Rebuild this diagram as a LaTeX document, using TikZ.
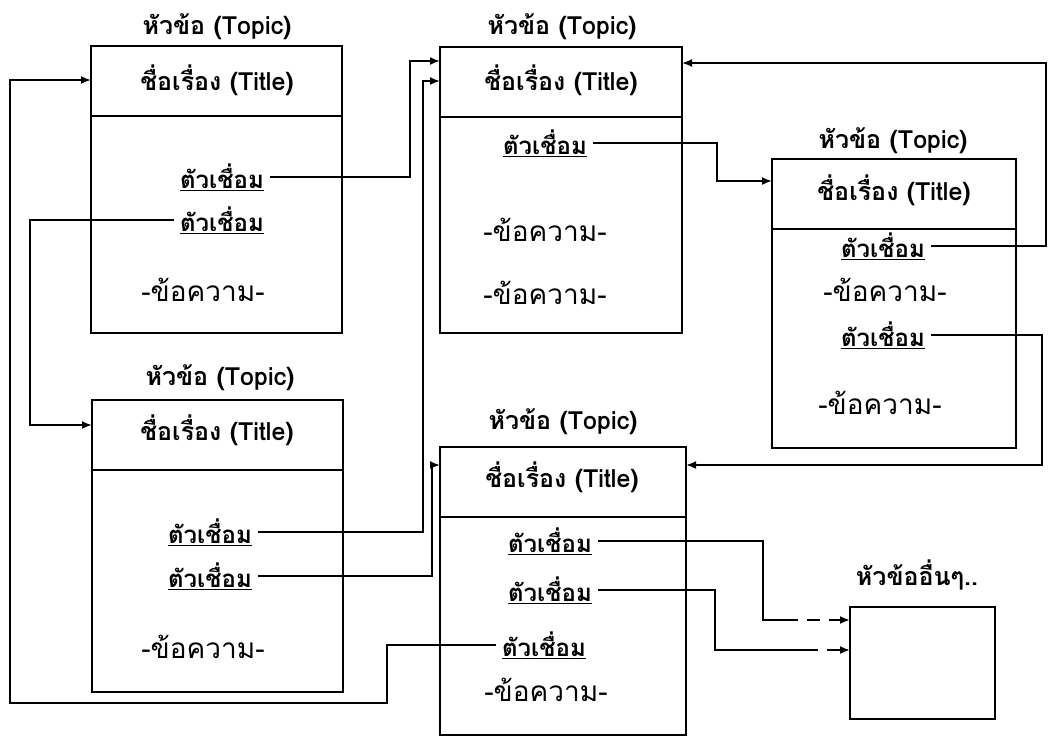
\documentclass[tikz,border=0pt]{standalone}
\usepackage{fontspec}
\newfontfamily\thai[Script=Thai]{Loma}
\usetikzlibrary{arrows.meta}
\tikzset{
  box/.style={draw, line width=1.8pt, inner sep=0pt, outer sep=0pt, anchor=north west},
  lbl/.style={font=\thai\bfseries\fontsize{25}{27}\selectfont, inner sep=0pt},
  ttl/.style={font=\thai\bfseries\fontsize{25}{27}\selectfont, inner sep=0pt},
  lnk/.style={font=\thai\bfseries\fontsize{24}{26}\selectfont, inner sep=0pt, outer xsep=6pt},
  msg/.style={font=\thai\fontsize{28}{30}\selectfont, inner sep=0pt},
  conn/.style={line width=1.8pt},
  arr/.style={line width=1.8pt, -{Latex[length=10pt,width=8pt]}},
  dsh/.style={line width=1.8pt, dash pattern=on 13pt off 9pt, -{Latex[length=10pt,width=8pt]}},
  divline/.style={line width=1.8pt}
}
\begin{document}
\begin{tikzpicture}[x=1pt,y=-1pt]
\useasboundingbox[fill=white] (0,0) rectangle (1048,737);

% ---------- Box A ----------
\node[box, minimum width=251pt, minimum height=287pt] (A) at (91,46) {};
\draw[divline] (91,116) -- (342,116);
\node[lbl] (At) at (217,27) {หัวข้อ (Topic)};
\node[ttl] (Ati) at (217,80) {ชื่อเรื่อง (Title)};
\node[lnk] (A1) at (222,177) {\underline{ตัวเชื่อม}};
\node[lnk] (A2) at (222,220) {\underline{ตัวเชื่อม}};
\node[msg] (Am) at (203,290) {-ข้อความ-};

% ---------- Box B ----------
\node[box, minimum width=242pt, minimum height=286pt] (B) at (440,47) {};
\draw[divline] (440,117) -- (682,117);
\node[lbl] (Bt) at (562,27) {หัวข้อ (Topic)};
\node[ttl] (Bti) at (561,80) {ชื่อเรื่อง (Title)};
\node[lnk] (B1) at (545,143) {\underline{ตัวเชื่อม}};
\node[msg] (Bm1) at (545,230) {-ข้อความ-};
\node[msg] (Bm2) at (545,293) {-ข้อความ-};

% ---------- Box C ----------
\node[box, minimum width=251pt, minimum height=292pt] (C) at (92,400) {};
\draw[divline] (92,470) -- (343,470);
\node[lbl] (Ct) at (220,378) {หัวข้อ (Topic)};
\node[ttl] (Cti) at (217,430) {ชื่อเรื่อง (Title)};
\node[lnk] (C1) at (210,532) {\underline{ตัวเชื่อม}};
\node[lnk] (C2) at (210,576) {\underline{ตัวเชื่อม}};
\node[msg] (Cm) at (203,647) {-ข้อความ-};

% ---------- Box D ----------
\node[box, minimum width=244pt, minimum height=289pt] (D) at (772,159) {};
\draw[divline] (772,229) -- (1016,229);
\node[lbl] (Dt) at (893,141) {หัวข้อ (Topic)};
\node[ttl] (Dti) at (894,190) {ชื่อเรื่อง (Title)};
\node[lnk] (D1) at (883,246) {\underline{ตัวเชื่อม}};
\node[msg] (Dm1) at (885,290) {-ข้อความ-};
\node[lnk] (D2) at (883,335) {\underline{ตัวเชื่อม}};
\node[msg] (Dm2) at (880,403) {-ข้อความ-};

% ---------- Box E ----------
\node[box, minimum width=246pt, minimum height=288pt] (E) at (440,447) {};
\draw[divline] (440,517) -- (686,517);
\node[lbl] (Et) at (563,422) {หัวข้อ (Topic)};
\node[ttl] (Eti) at (562,477) {ชื่อเรื่อง (Title)};
\node[lnk] (E1) at (550,541) {\underline{ตัวเชื่อม}};
\node[lnk] (E2) at (550,590) {\underline{ตัวเชื่อม}};
\node[lnk] (E3) at (544,645) {\underline{ตัวเชื่อม}};
\node[msg] (Em) at (546,690) {-ข้อความ-};

% ---------- Box F ----------
\node[box, minimum width=145pt, minimum height=112pt] (F) at (850,607) {};
\node[lbl] (Ft) at (917,575) {หัวข้ออื่นๆ..};

% ---------- Connectors ----------
% A1 -> B
\draw[arr] (A1.east) -| ([xshift=-30pt,yshift=-14pt]B.north west) -- ([yshift=-14pt]B.north west);
% C1 -> B
\draw[arr] (C1.east) -| ([xshift=-17pt,yshift=-34pt]B.north west) -- ([yshift=-34pt]B.north west);
% C2 -> E
\draw[arr] (C2.east) -| ([xshift=-8pt,yshift=-18pt]E.north west) -- ([yshift=-18pt]E.north west);
% A2 -> C
\draw[arr] (A2.west) -| ([xshift=-62pt,yshift=-25pt]C.north west) -- ([yshift=-25pt]C.north west);
% E3 -> A
\draw[arr] (E3.west) -| (387,703) -| ([xshift=-81pt,yshift=-34pt]A.north west) -- ([yshift=-34pt]A.north west);
% B1 -> D
\draw[arr] (B1.east) -| ([xshift=-55pt,yshift=-22pt]D.north west) -- ([yshift=-22pt]D.north west);
% D1 -> B
\draw[arr] (D1.east) -| ([xshift=364pt,yshift=-16pt]B.north east) -- ([yshift=-16pt]B.north east);
% D2 -> E
\draw[arr] (D2.east) -| ([xshift=356pt,yshift=-18pt]E.north east) -- ([yshift=-18pt]E.north east);
% E1 -> F
\coordinate (F1s) at (785,620);
\draw[conn] (E1.east) -| (763,620) -- (F1s);
\draw[dsh] (F1s) -- ([yshift=-13pt]F.north west);
% E2 -> F
\coordinate (F2s) at (805,650);
\draw[conn] (E2.east) -| (715,650) -- (F2s);
\draw[dsh] (F2s) -- ([yshift=-43pt]F.north west);
\end{tikzpicture}
\end{document}
